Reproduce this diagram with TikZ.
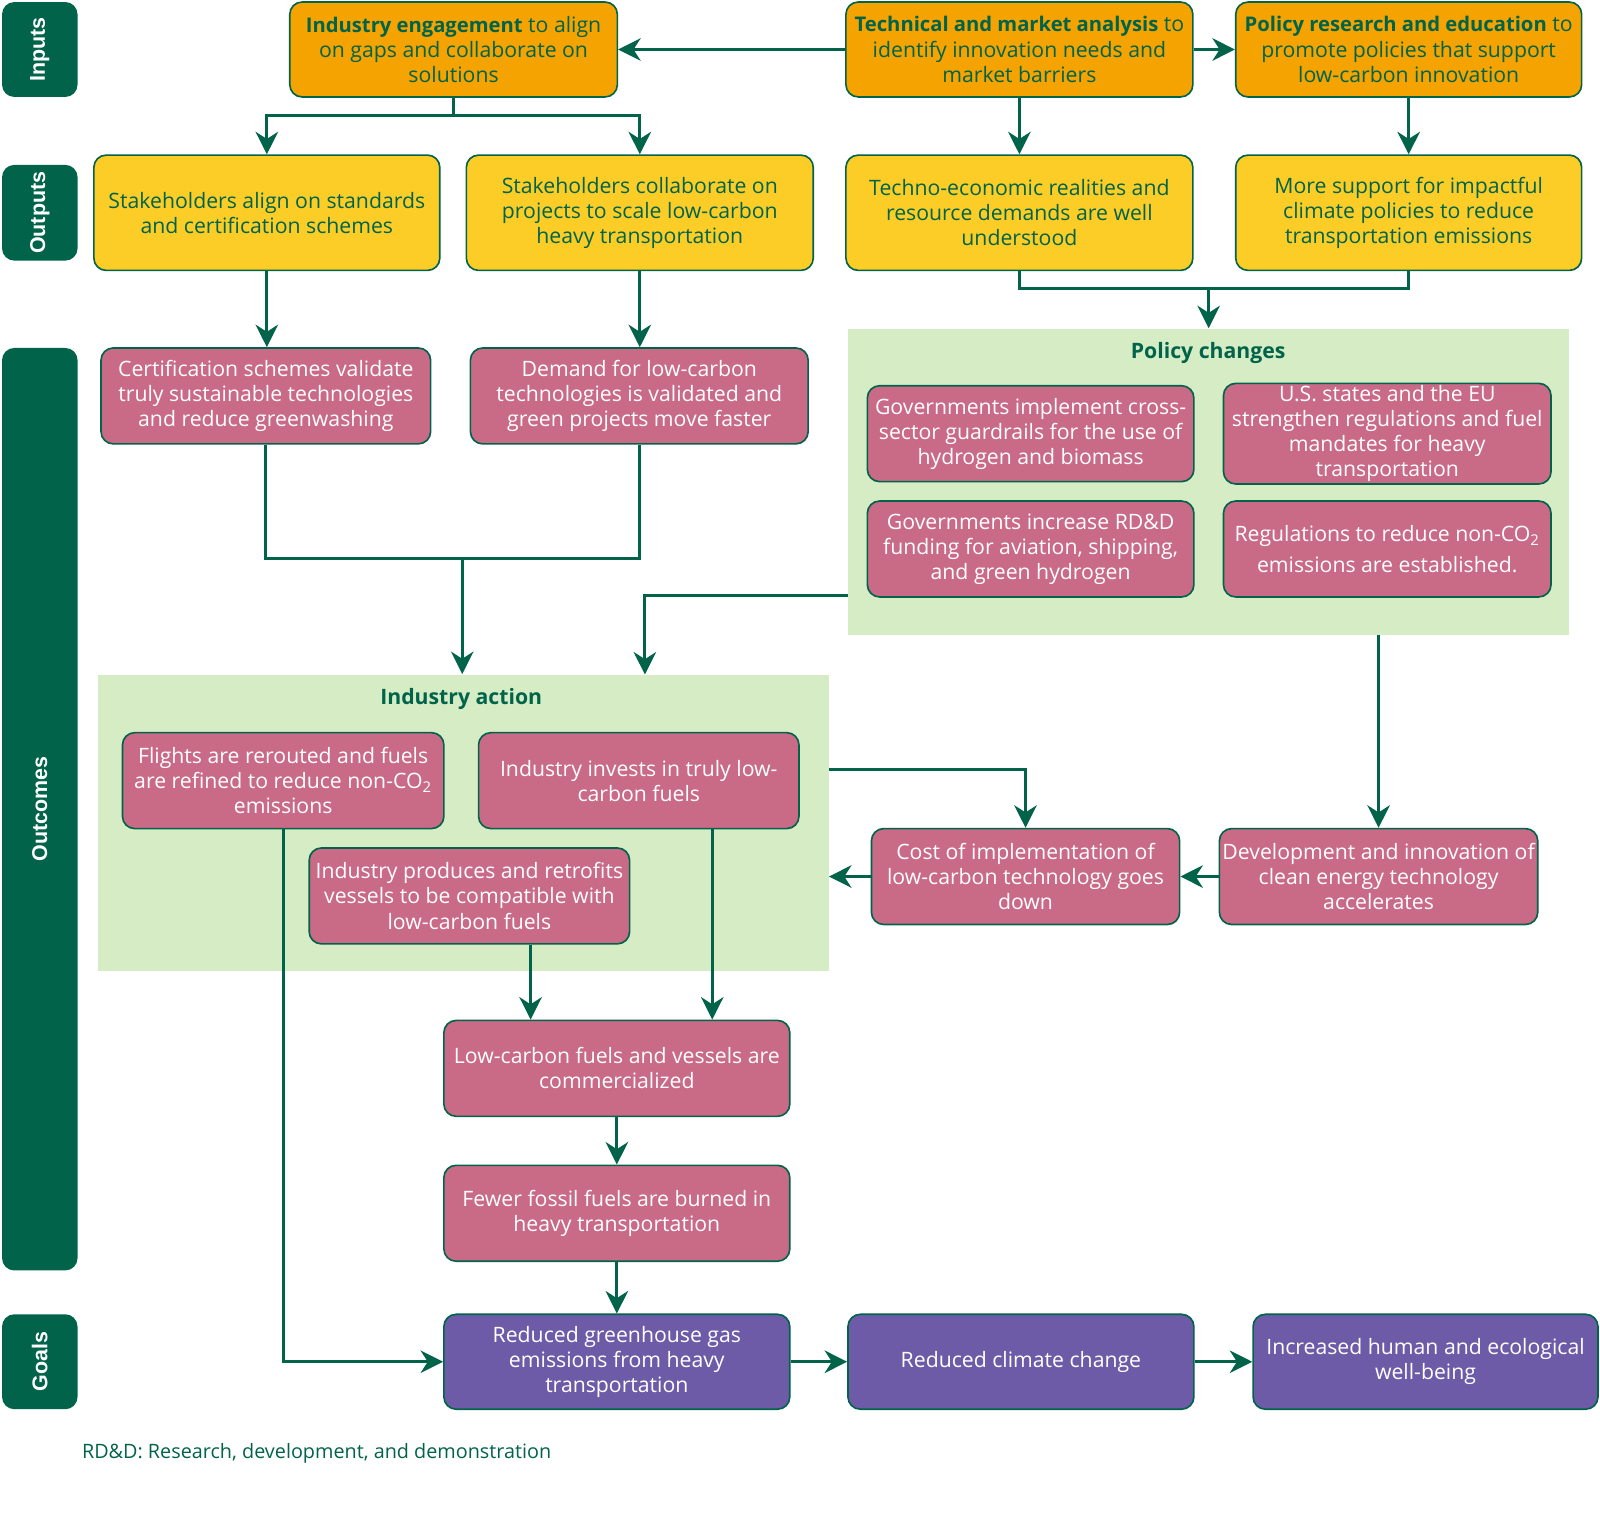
\documentclass[tikz,border=0pt]{standalone}
\usepackage{fontspec}
\setmainfont{Open Sans}
\newfontfamily\lblfont{Liberation Sans}
\usetikzlibrary{arrows.meta,positioning}
\definecolor{tocgreen}{HTML}{00634A}
\definecolor{tocorange}{HTML}{F4A300}
\definecolor{tocyellow}{HTML}{FCCD26}
\definecolor{tocpink}{HTML}{C96A87}
\definecolor{tocpurple}{HTML}{6D5BA8}
\definecolor{tocband}{HTML}{D5ECC5}
\newcommand{\boxfont}{\fontsize{10.4}{12.3}\selectfont}
\newcommand{\leadin}[1]{{\fontsize{9.9}{12.3}\selectfont\bfseries #1}}

\begin{document}
\begin{tikzpicture}[x=0.5pt, y=-0.5pt, font=\boxfont, >={Stealth[length=11pt,width=11pt,inset=3.5pt]},
  box/.style={draw=tocgreen, line width=0.8pt, rounded corners=6pt, align=center, inner sep=1pt, minimum height=47pt},
  inbox/.style={box, fill=tocorange, text=tocgreen, minimum width=#1, minimum height=46.5pt},
  outbox/.style={box, fill=tocyellow, text=tocgreen, minimum width=#1, minimum height=56.5pt},
  ocbox/.style={box, fill=tocpink, text=white, minimum width=#1},
  goalbox/.style={box, fill=tocpurple, text=white, minimum width=#1, minimum height=46.5pt},
  lane/.style={fill=tocgreen, rounded corners=6pt, rotate=90, text=white, font=\lblfont\bfseries\fontsize{10.5}{12}\selectfont, minimum height=37pt, minimum width=#1},
  band/.style={fill=tocband, minimum width=#1},
  bandtitle/.style={text=tocgreen, font=\boxfont\bfseries},
  link/.style={->, draw=tocgreen, line width=1.5pt},
  wire/.style={draw=tocgreen, line width=1.5pt}]
  \useasboundingbox (0,0) rectangle (1568,1505);

  \node[lane=46.5pt] (lin) at (39,48.5) {Inputs};
  \node[lane=46.5pt] (lout) at (39,208.5) {Outputs};
  \node[lane=452pt] (loc) at (39,793) {Outcomes};
  \node[lane=46.5pt] (lgoal) at (39,1334.5) {Goals};

  \node[band=353.5pt, minimum height=150pt] (polbg) at (1184.5,472) {};
  \node[band=358pt, minimum height=145.5pt] (indbg) at (454,806.5) {};
  \node[bandtitle] (poltitle) at (1184,346) {Policy changes};
  \node[bandtitle] (indtitle) at (452,685) {Industry action};

  \node[inbox=160.5pt] (eng) at (444.5,48.5) {\leadin{Industry engagement} to align\\on gaps and collaborate on\\solutions};
  \node[inbox=170pt] (tech) at (999,48.5) {\leadin{Technical and market analysis} to\\identify innovation needs and\\market barriers};
  \node[inbox=169.5pt] (pol) at (1380.5,48.5) {\leadin{Policy research and education} to\\promote policies that support\\low-carbon innovation};

  \node[outbox=169.5pt] (align) at (261.5,208.5) {Stakeholders align on standards\\and certification schemes};
  \node[outbox=170pt] (collab) at (627,208.5) {Stakeholders collaborate on\\projects to scale low-carbon\\heavy transportation};
  \node[outbox=170pt] (techno) at (999,208.5) {Techno-economic realities and\\resource demands are well\\understood};
  \node[outbox=169.5pt] (support) at (1380.5,208.5) {More support for impactful\\climate policies to reduce\\transportation emissions};

  \node[ocbox=161.5pt] (cert) at (260.5,388) {Certification schemes validate\\truly sustainable technologies\\and reduce greenwashing};
  \node[ocbox=165.5pt] (demand) at (626.5,388) {Demand for low-carbon\\technologies is validated and\\green projects move faster};

  \node[ocbox=160pt] (gimpl) at (1010,425) {Governments implement cross-\\sector guardrails for the use of\\hydrogen and biomass};
  \node[ocbox=160.5pt] (states) at (1359.5,425) {U.S. states and the EU\\strengthen regulations and fuel\\mandates for heavy\\transportation};
  \node[ocbox=160pt] (gincr) at (1010,538) {Governments increase RD\&D\\funding for aviation, shipping,\\and green hydrogen};
  \node[ocbox=160.5pt] (regs) at (1359.5,538) {Regulations to reduce non-CO\textsubscript{2}\\[3pt]emissions are established.};

  \node[ocbox=157.5pt] (flights) at (277.5,765) {Flights are rerouted and fuels\\are refined to reduce non-CO\textsubscript{2}\\emissions};
  \node[ocbox=157pt] (invests) at (626,765) {Industry invests in truly low-\\carbon fuels};
  \node[ocbox=157pt] (produces) at (460,878) {Industry produces and retrofits\\vessels to be compatible with\\low-carbon fuels};
  \node[ocbox=151pt] (cost) at (1005,859) {Cost of implementation of\\low-carbon technology goes\\down};
  \node[ocbox=156pt] (dev) at (1351,859) {Development and innovation of\\clean energy technology\\accelerates};

  \node[ocbox=169.5pt] (lowc) at (604.5,1047) {Low-carbon fuels and vessels are\\commercialized};
  \node[ocbox=169.5pt] (fewer) at (604.5,1189) {Fewer fossil fuels are burned in\\heavy transportation};

  \node[goalbox=169.5pt] (ghg) at (604.5,1334.5) {Reduced greenhouse gas\\emissions from heavy\\transportation};
  \node[goalbox=169.5pt] (climate) at (1000.5,1334.5) {Reduced climate change};
  \node[goalbox=169pt] (human) at (1397,1334.5) {Increased human and ecological\\well-being};

  \node[anchor=west, text=tocgreen, inner sep=0pt, font=\fontsize{9.7}{11}\selectfont] (note) at (80,1424) {RD\&D: Research, development, and demonstration};

  \coordinate (engsplit) at (444.5,113);
  \coordinate (polmerge) at (1184.5,283);
  \coordinate (indmerge) at (453,547);
  \coordinate (polout) at (831,584);
  \coordinate (indin) at (632,661);
  \coordinate (indout) at (812,754);

  \draw[link] (tech.west) -- (eng.east);
  \draw[link] (tech.east) -- (pol.west);
  \draw[wire] (eng.south) -- (engsplit);
  \draw[link] (engsplit) -| (align.north);
  \draw[link] (engsplit) -| (collab.north);
  \draw[link] (tech.south) -- (techno.north);
  \draw[link] (pol.south) -- (support.north);

  \draw[link] (align.south) -- (align.south |- cert.north);
  \draw[link] (collab.south) -- (collab.south |- demand.north);
  \draw[wire] (techno.south) |- (polmerge) -| (support.south);
  \draw[link] (polmerge) -- (polbg.north);

  \draw[wire] (cert.south) |- (indmerge) -| (demand.south);
  \draw[link] (indmerge) -- (indmerge |- indbg.north);
  \draw[link] (polout) -| (indin);
  \draw[link] (polbg.south -| dev.north) -- (dev.north);
  \draw[link] (indout) -| (cost.north);
  \draw[link] (dev.west) -- (cost.east);
  \draw[link] (cost.west) -- (cost.west -| indbg.east);

  \draw[link] (flights.south) |- (ghg.west);
  \draw[link] (produces.south -| 520,0) -- (lowc.north -| 520,0);
  \draw[link] (invests.south -| 698,0) -- (lowc.north -| 698,0);
  \draw[link] (lowc.south) -- (fewer.north);
  \draw[link] (fewer.south) -- (ghg.north);
  \draw[link] (ghg.east) -- (climate.west);
  \draw[link] (climate.east) -- (human.west);
\end{tikzpicture}
\end{document}
